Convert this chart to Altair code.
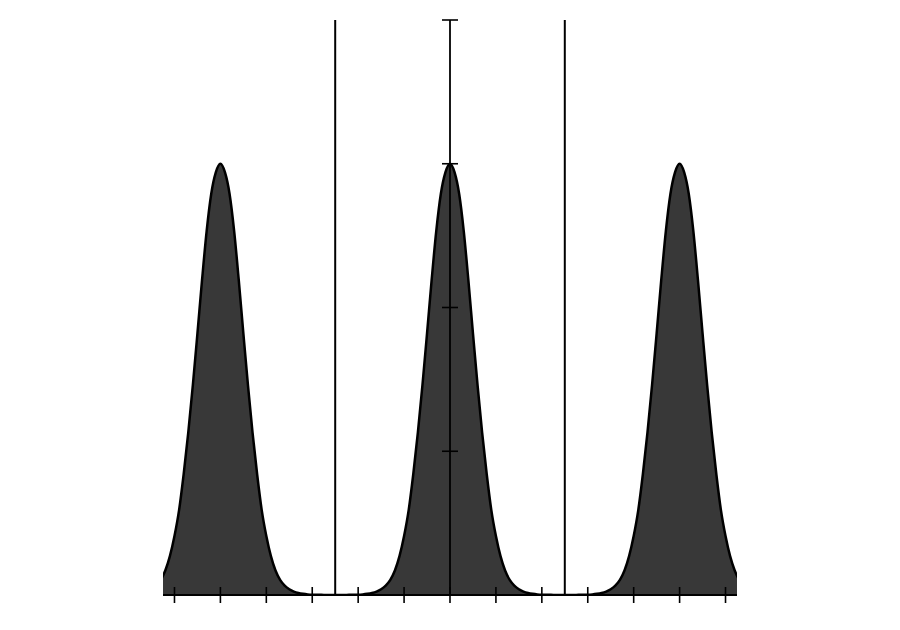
import altair as alt
import pandas as pd

# --- data ---
peak_centers = [-5.0, 0.0, 5.0]
profile_offsets = [0.0, 0.1, 0.2, 0.3, 0.4, 0.5, 0.6, 0.7, 0.8, 0.9, 1.0,
                   1.1, 1.2, 1.3, 1.4, 1.5, 1.6, 1.7, 1.8, 1.9, 2.0, 2.2, 2.5]
profile_heights = [3.00, 2.94, 2.79, 2.53, 2.19, 1.82, 1.46, 1.13, 0.84, 0.59, 0.41,
                   0.27, 0.17, 0.105, 0.065, 0.04, 0.024, 0.014, 0.008, 0.004, 0.002, 0.001, 0.0]
x_ticks = [-6, -5, -4, -3, -2, -1, 0, 1, 2, 3, 4, 5, 6]
y_ticks = [1, 2, 3, 4]
guide_lines = [-2.5, 2.5]
x_extent = [-6.25, 6.25]
y_extent = [0, 4]

rows = []
for c in peak_centers:
    for o, h in zip(profile_offsets, profile_heights):
        rows.append({"x": c - o, "y": h})
        rows.append({"x": c + o, "y": h})
curve = pd.DataFrame(rows).groupby("x", as_index=False)["y"].max().sort_values("x")

xs = alt.Scale(domain=x_extent, nice=False, zero=False)
ys = alt.Scale(domain=y_extent, nice=False, zero=False)

area = alt.Chart(curve).mark_area(
    color="#383838", opacity=1, fillOpacity=1, interpolate="monotone", clip=True,
    line={"color": "black", "strokeWidth": 2.5}
).encode(
    x=alt.X("x:Q", scale=xs, axis=None),
    y=alt.Y("y:Q", scale=ys, axis=None),
)

guides = alt.Chart(pd.DataFrame({"x": guide_lines, "y0": [y_extent[0]] * 2, "y1": [y_extent[1]] * 2})).mark_rule(
    color="black", strokeWidth=2
).encode(x=alt.X("x:Q", scale=xs), y=alt.Y("y0:Q", scale=ys), y2="y1:Q")

xaxis_line = alt.Chart(pd.DataFrame({"x0": [x_extent[0]], "x1": [x_extent[1]], "y": [0]})).mark_rule(
    color="black", strokeWidth=2
).encode(x=alt.X("x0:Q", scale=xs), x2="x1:Q", y=alt.Y("y:Q", scale=ys))

yaxis_line = alt.Chart(pd.DataFrame({"x": [0], "y0": [y_extent[0]], "y1": [y_extent[1]]})).mark_rule(
    color="black", strokeWidth=1.8
).encode(x=alt.X("x:Q", scale=xs), y=alt.Y("y0:Q", scale=ys), y2="y1:Q")

xticks = alt.Chart(pd.DataFrame({"x": x_ticks, "y": [0] * len(x_ticks)})).mark_tick(
    orient="vertical", size=16, thickness=1.6, color="black", opacity=1
).encode(x=alt.X("x:Q", scale=xs), y=alt.Y("y:Q", scale=ys))

yticks = alt.Chart(pd.DataFrame({"x": [0] * len(y_ticks), "y": y_ticks})).mark_tick(
    orient="horizontal", size=16, thickness=1.6, color="black", opacity=1
).encode(x=alt.X("x:Q", scale=xs), y=alt.Y("y:Q", scale=ys))

chart = alt.layer(area, guides, xaxis_line, yaxis_line, xticks, yticks).properties(
    width=574, height=575,
    autosize=alt.AutoSizeParams(type="none"),
    padding={"left": 155, "top": 12, "right": 20, "bottom": 20},
    background="white",
).configure_view(stroke=None)

chart.save("out.html", embed_options={"renderer": "svg", "actions": False})
